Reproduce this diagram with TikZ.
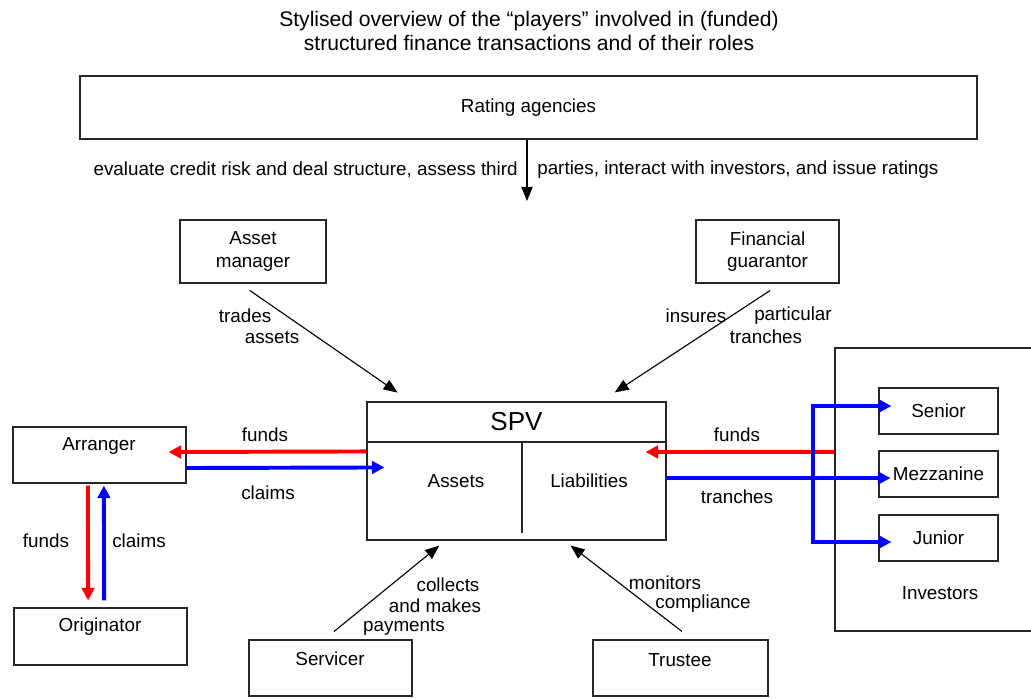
\documentclass[tikz,border=0pt]{standalone}
\usepackage{fontspec}
\setmainfont{Liberation Sans}
\usetikzlibrary{positioning, arrows.meta, fit}
\tikzset{
    player/.style={draw=black!85, line width=0.8pt, inner sep=0pt},
    role/.style={font=\fontsize{13.4}{15.8}\selectfont, align=center, inner sep=0pt},
    divider/.style={draw=black!85, line width=0.8pt},
    act/.style={draw=black, line width=0.8pt, -{Triangle[length=10pt, width=8pt]}},
    flow/.style={line width=2.8pt, -{Triangle[length=9pt, width=9pt]}},
    fundflow/.style={flow, draw=red},
    claimflow/.style={flow, draw=blue}
}

\begin{document}
\begin{tikzpicture}[x=0.025cm, y=-0.025cm]
\clip (0,0) rectangle (1031,698);

% Title
\node[role, font=\fontsize{15}{17.5}\selectfont] (title) at (529,31) {Stylised overview of the “players” involved in (funded)\\structured finance transactions and of their roles};

% Rating agencies
\node[player, fit={(80,76) (977,139)}] (rating) {};
\node[role] (ratingtxt) at (rating.center) {Rating agencies};
\coordinate (ratingtip) at (527,201);
\draw[act] (rating.south -| ratingtip) -- (ratingtip);
\node[role, anchor=east] (evaltxt) at (518,170) {evaluate credit risk and deal structure, assess third};
\node[role, anchor=west] (partytxt) at (537,170) {parties, interact with investors, and issue ratings};

% Asset manager and financial guarantor
\node[player, fit={(180,220) (326,283)}] (manager) {};
\node[role] (managertxt) at (manager.center) {Asset\\manager};
\node[player, fit={(696,220) (839,283)}] (guarantor) {};
\node[role] (guarantortxt) at (guarantor.center) {Financial\\guarantor};

% SPV with its two halves
\node[player, fit={(367,402) (666,442)}] (spvhead) {};
\node[role, font=\fontsize{18.5}{20}\selectfont] (spvtxt) at (spvhead.center) {SPV};
\node[player, fit={(367,442) (666,540)}] (spvbody) {};
\draw[divider] (522,442) -- (522,533);
\node[role] (assets) at (456,481) {Assets};
\node[role] (liabs) at (589,481) {Liabilities};

% Arranger and originator
\node[player, fit={(13,427) (186,483)}] (arranger) {};
\node[role] (arrtxt) at (99,446) {Arranger};
\node[player, fit={(14,608) (187,665)}] (originator) {};
\node[role] (origtxt) at (100,627) {Originator};

% Servicer and trustee
\node[player, fit={(249,640) (412,696)}] (servicer) {};
\node[role] (servtxt) at (330,659) {Servicer};
\node[player, fit={(593,640) (768,696)}] (trustee) {};
\node[role] (trusttxt) at (680,660) {Trustee};

% Investors and tranches
\node[player, fit={(835,348) (1045,631)}] (investors) {};
\node[role] (invtxt) at (940,593) {Investors};
\node[player, fit={(879,388) (998,434)}] (senior) {};
\node[role] (seniortxt) at (senior.center) {Senior};
\node[player, fit={(879,451) (998,497)}] (mezz) {};
\node[role] (mezztxt) at (mezz.center) {Mezzanine};
\node[player, fit={(879,515) (998,561)}] (junior) {};
\node[role] (juniortxt) at (junior.center) {Junior};

% Roles towards the SPV
\draw[act, shorten <=0.3cm, shorten >=0.39cm] ([xshift=-0.33cm]manager.south) -- ([xshift=1.1cm]spvhead.north west);
\node[role] (tradestxt) at (245,316) {trades};
\node[role] (assetstxt) at (272,337) {assets};
\draw[act, shorten <=0.32cm, shorten >=0.41cm] ([xshift=0.33cm]guarantor.south) -- ([xshift=-1.64cm]spvhead.north east);
\node[role] (insurestxt) at (696,316) {insures};
\node[role] (particulartxt) at (793,316) {particular};
\node[role] (tranchestxt) at (766,337) {tranches};
\draw[act, shorten <=0.31cm, shorten >=0.2cm] ([xshift=-0.155cm]servicer.north) -- ([xshift=1.975cm]spvbody.south west);
\node[role] (collectstxt) at (448,585) {collects};
\node[role] (makestxt) at (435,606) {and makes};
\node[role] (paytxt) at (404,627) {payments};
\draw[act, shorten <=0.33cm, shorten >=0.2cm] ([xshift=0.295cm]trustee.north) -- ([xshift=-2.56cm]spvbody.south east);
\node[role] (monitorstxt) at (665,583) {monitors};
\node[role] (compltxt) at (703,604) {compliance};

% Funds and claims, left side
\draw[fundflow] ([yshift=-0.25cm]spvbody.north west) -- ([xshift=-0.45cm, yshift=0.075cm]arranger.east);
\draw[claimflow] ([yshift=-0.325cm]arranger.east) -- ([xshift=0.45cm, yshift=-0.65cm]spvbody.north west);
\node[role] (fundsA) at (265,435) {funds};
\node[role] (claimsA) at (268,493) {claims};
\draw[fundflow] ([xshift=-0.29cm, yshift=-0.05cm]arranger.south) -- ([xshift=-0.31cm, yshift=0.175cm]originator.north);
\draw[claimflow] ([xshift=0.09cm, yshift=0.175cm]originator.north) -- ([xshift=0.11cm, yshift=-0.05cm]arranger.south);
\node[role] (fundsB) at (46,541) {funds};
\node[role] (claimsB) at (139,541) {claims};

% Funds and tranches, right side
\draw[fundflow] ([yshift=0.94cm]investors.west) -- ([xshift=-0.525cm, yshift=0.975cm]spvbody.east);
\draw[claimflow] ([yshift=0.325cm]spvbody.east) -- ([xshift=0.3cm, yshift=-0.1cm]mezz.west);
\coordinate (fork) at (813,478);
\draw[claimflow] (fork) |- ([xshift=0.325cm, yshift=0.125cm]senior.west);
\draw[claimflow] (fork) |- ([xshift=0.325cm, yshift=-0.1cm]junior.west);
\node[role] (fundsC) at (737,435) {funds};
\node[role] (tranchesC) at (737,497) {tranches};
\end{tikzpicture}
\end{document}
